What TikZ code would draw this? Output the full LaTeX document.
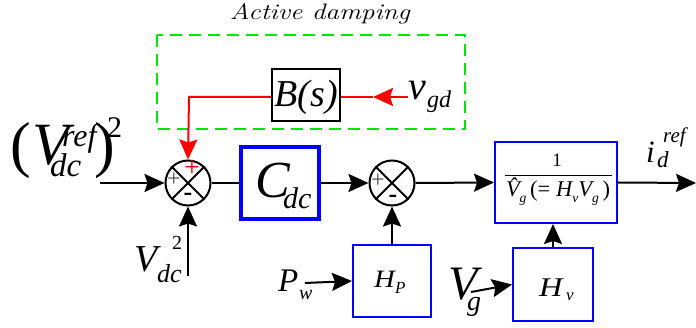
\documentclass[tikz,border=0pt]{standalone}
\usepackage{fontspec}
\usepackage{graphicx}
\newfontfamily\tms{Liberation Serif}
\usetikzlibrary{arrows.meta}
\definecolor{pblue}{RGB}{0,0,255}
\definecolor{pgreen}{RGB}{0,230,0}
\definecolor{pred}{RGB}{255,0,0}
\tikzset{
  arr/.style={-{Stealth[length=20pt,width=18pt,inset=3pt]}},
  wire/.style={line width=2pt,black},
  sumnode/.style={circle,draw,line width=2pt,minimum size=45pt,inner sep=0pt},
  bbox/.style={draw=pblue,line width=2pt,inner sep=0pt},
  lbl/.style={inner sep=0pt,font=\tms\itshape},
}
\newcommand{\fs}[1]{\fontsize{#1}{#1}\selectfont}
\begin{document}
\begin{tikzpicture}[x=1pt,y=-1pt]
\useasboundingbox (0,0) rectangle (696,328);

% title and damping box
\node[inner sep=0pt,anchor=base] (title) at (320,20) {\resizebox{180pt}{16pt}{\fs{22}\itshape Active damping}};
\draw[pgreen,line width=2pt,dash pattern=on 12pt off 7pt] (157,35) rectangle (465,129);

% sum junctions
\node[sumnode] (s1) at (188,183) {};
\node[sumnode] (s2) at (392,183) {};
\foreach \s in {s1,s2}{
  \draw[line width=2pt] (\s.north west) -- (\s.south east);
  \draw[line width=2pt] (\s.north east) -- (\s.south west);
}
% signs
\node[inner sep=0pt,text=black!70,font=\tms\fs{24}] (p1) at (174,180) {+};
\node[inner sep=0pt,text=pred,font=\tms\fs{28}] (p2) at (192,169) {+};
\node[inner sep=0pt,font=\tms\bfseries\fs{26}] (m1) at (188,197) {-};
\node[inner sep=0pt,text=black!70,font=\tms\fs{24}] (p3) at (378,181) {+};
\node[inner sep=0pt,font=\tms\bfseries\fs{26}] (m2) at (393,199) {-};

% blocks
\node[draw,line width=2pt,minimum width=68pt,minimum height=52pt,inner sep=0pt] (B) at (306,95) {};
\node[lbl,anchor=base,font=\tms\itshape\fs{38}] (Btxt) at (306,107) {B(s)};
\node[bbox,line width=3.5pt,minimum width=78pt,minimum height=72pt] (C) at (280,183) {};
\node[lbl,anchor=base west,font=\tms\itshape\fs{52}] (Ct) at (255,198) {C};
\node[lbl,anchor=base west,font=\tms\itshape\fs{30}] (Cs) at (283,209) {dc};

\node[bbox,minimum width=78pt,minimum height=72pt] (HP) at (392,281) {};
\node[lbl,anchor=base west,font=\tms\itshape\fs{25},xscale=1.15] (HPt) at (374,288) {H};
\node[lbl,anchor=base west,font=\tms\itshape\fs{17}] (HPs) at (395,294) {P};

\node[bbox,minimum width=122pt,minimum height=81pt] (G) at (556,182.5) {};
\node[inner sep=0pt,anchor=base,font=\tms\fs{19}] (one) at (557,167) {1};
\coordinate (fl) at (505,175);
\coordinate (fr) at (612,175);
\draw[line width=0.7pt] (fl) -- (fr);
\node[inner sep=0pt,anchor=base,font=\tms\fs{20}] (den) at (558,197) {\resizebox{104pt}{!}{\itshape\^{V}\raisebox{-5pt}{\fs{12}g}\,\upshape(= \itshape H\raisebox{-5pt}{\fs{12}v}V\raisebox{-5pt}{\fs{12}g}\upshape\,)}};

\node[bbox,minimum width=80pt,minimum height=73pt] (Hv) at (553,284.5) {};
\node[lbl,anchor=base west,font=\tms\itshape\fs{27},xscale=1.2] (Hvt) at (539,297) {H};
\node[lbl,anchor=base west,font=\tms\itshape\fs{17}] (Hvs) at (566,301) {v};

% labels
\node[lbl,anchor=base west,font=\tms\fs{62}] (lp) at (10,166) {(};
\node[lbl,anchor=base west,font=\tms\itshape\fs{60}] (Vr) at (32,165) {V};
\node[lbl,anchor=base west,font=\tms\itshape\fs{32}] (Vrs) at (62,147) {ref};
\node[lbl,anchor=base west,font=\tms\itshape\fs{33}] (Vrd) at (50,177) {dc};
\node[lbl,anchor=base west,font=\tms\fs{62}] (rp) at (94,166) {)};
\node[lbl,anchor=base west,font=\tms\fs{30}] (sq) at (107,138) {2};

\node[lbl,anchor=base west,font=\tms\itshape\fs{38}] (Vd) at (134,272) {V};
\node[lbl,anchor=base west,font=\tms\fs{20}] (Vd2) at (172,250) {2};
\node[lbl,anchor=base west,font=\tms\itshape\fs{26}] (Vdd) at (157,283) {dc};

\node[lbl,anchor=base west,font=\tms\itshape\fs{40}] (vg) at (408,100) {v};
\node[lbl,anchor=base west,font=\tms\itshape\fs{24}] (vgs) at (427,108) {gd};

\node[lbl,anchor=base west,font=\tms\itshape\fs{33}] (Pw) at (278,292) {P};
\node[lbl,anchor=base west,font=\tms\itshape\fs{20}] (Pws) at (299,300) {w};

\node[lbl,anchor=base west,font=\tms\itshape\fs{48}] (Vg) at (448,300) {V};
\node[lbl,anchor=base west,font=\tms\itshape\fs{28}] (Vgs) at (467,311) {g};

\node[lbl,anchor=base west,font=\tms\itshape\fs{31}] (id) at (646,163) {i};
\node[lbl,anchor=base west,font=\tms\itshape\fs{23}] (ids) at (657,168) {d};
\node[lbl,anchor=base west,font=\tms\itshape\fs{21}] (idr) at (663,143) {ref};

% coordinates for free ends
\coordinate (inR) at (100,183);
\coordinate (inVd) at (188,276);
\coordinate (inP) at (305,283);
\coordinate (inVg) at (471,292);
\coordinate (out) at (696,183);
\coordinate (vstart) at (408,97);
\coordinate (vtip) at (373,97);
\coordinate (rcorner) at (189,97);

% connectors
\draw[wire,arr] (inR) -- (s1.west);
\draw[wire,arr] (inVd) -- (s1.south);
\draw[wire] (s1.east) -- (C.west);
\draw[wire,arr] (C.east) -- (s2.west);
\draw[wire,arr] (HP.north) -- (s2.south);
\draw[wire,arr] (inP) -- (HP.west);
\draw[wire,arr] (s2.east) -- (G.west);
\draw[wire,arr] (Hv.north) -- (Hv.north |- G.south);
\draw[wire,arr] (inVg) -- (Hv.west);
\draw[wire,arr] (G.east) -- (out);

\draw[pred,line width=2pt,arr] (vstart) -- (vtip);
\draw[pred,line width=2pt] (vtip) -- (B.east |- vtip);
\draw[pred,line width=2pt,arr] (B.west |- vtip) -- (rcorner) -- (s1.north);
\end{tikzpicture}
\end{document}
